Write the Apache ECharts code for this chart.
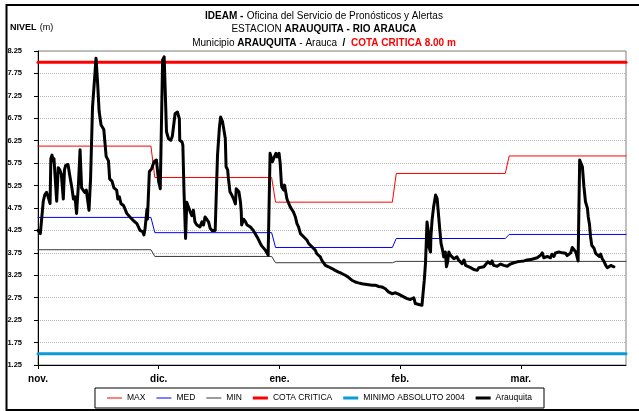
<!DOCTYPE html>
<html>
<head>
<meta charset="utf-8">
<script src="https://cdn.jsdelivr.net/npm/echarts@6/dist/echarts.min.js"></script>
<style>
html, body { margin: 0; padding: 0; background: #fff; }
#chart { width: 639px; height: 411px; }
</style>
</head>
<body>
<div id="chart"></div>
<script>
// Hydrological season Nov–Mar, x in days from 1 November
const monthLabels = ['nov.', 'dic.', 'ene.', 'feb.', 'mar.'];
const monthTickDays = [0, 31, 62, 93, 124];
const monthFirstDay = [0, 30, 61, 92, 121];
const monthLastDay = [29, 60, 91, 120, 151];

// Historical monthly statistics (m)
const maxLevels = [6.13, 5.43, 4.88, 5.52, 5.91];
const medLevels = [4.54, 4.20, 3.87, 4.07, 4.16];
const minLevels = [3.82, 3.67, 3.53, 3.56, 3.56];

const cotaCritica = 8.00;
const minimoAbsoluto2004 = 1.50;

const yTickLabels = [1.25, 1.75, 2.25, 2.75, 3.25, 3.75, 4.25, 4.75, 5.25, 5.75, 6.25, 6.75, 7.25, 7.75, 8.25];

// Observed river level at Arauquita
const arauquitaDays = [
  0, 0.6, 1.0, 1.35, 1.76, 2.18, 2.6, 3.1, 3.3, 3.6, 3.9, 4.1, 4.8, 5.2, 5.6, 6.0, 6.5, 6.8, 7.1, 7.7,
  8.2, 8.7, 9.1, 9.5, 9.9, 10.4, 10.8, 11.0, 11.2, 11.6, 12.0, 12.4, 13.1, 13.5, 14.0, 14.5, 14.9, 15.3, 15.7, 16.2,
  16.9, 17.5, 18.1, 18.4, 19.0, 19.5, 20.2, 20.5, 20.9, 21.3, 22.0, 22.8, 23.6, 24.6, 25.4, 26.2, 26.9, 27.2, 27.5, 28.0,
  28.1, 28.6, 29.2, 29.8, 30.4, 31.0, 31.4, 31.7, 32.0, 32.4, 32.9, 33.0, 33.5, 34.1, 34.5, 35.2, 35.8, 36.3, 36.4, 37.0,
  37.2, 37.5, 37.9, 38.2, 38.6, 39.1, 39.5, 39.9, 40.3, 40.8, 41.6, 42.1, 42.5, 42.9, 43.4, 43.8, 44.2, 44.7, 45.5, 45.9,
  46.1, 46.6, 46.9, 47.4, 48.1, 48.3, 48.7, 48.9, 49.3, 49.7, 50.2, 50.7, 50.9, 51.2, 51.6, 52.0, 52.2, 52.3, 52.8, 53.3,
  53.7, 54.5, 55.3, 56.3, 57.1, 57.5, 57.9, 58.4, 58.8, 59.1, 59.6, 59.9, 60.2, 60.5, 60.7, 61.1, 61.4, 61.6, 61.9, 62.2,
  62.5, 62.6, 63.1, 63.3, 63.7, 63.9, 64.2, 64.4, 64.8, 65.2, 65.6, 66.1, 66.5, 66.9, 67.4, 67.8, 68.2, 68.6, 69.1, 69.5,
  69.9, 70.4, 70.8, 71.2, 71.6, 72.1, 72.5, 72.9, 73.3, 73.8, 74.6, 75.5, 76.3, 77.2, 78.0, 78.9, 79.4, 79.8, 80.6, 81.5,
  82.3, 83.2, 84.0, 84.9, 85.8, 86.6, 87.5, 88.3, 89.2, 90.0, 90.9, 91.8, 92.6, 93.1, 93.9, 94.8, 95.6, 96.5, 96.9, 97.8,
  98.6, 99.1, 99.2, 99.5, 99.7, 99.9, 100.2, 100.4, 100.8, 100.9, 101.2, 101.6, 102.1, 102.5, 102.9, 103.2, 103.5, 103.9, 104.2, 104.6,
  104.9, 105.2, 105.5, 105.9, 106.3, 106.8, 107.2, 107.6, 108.0, 108.5, 108.9, 109.4, 109.8, 110.2, 111.1, 111.9, 112.3, 112.8, 113.2, 113.6,
  114.5, 114.9, 115.5, 116.2, 116.6, 117.0, 117.5, 117.9, 118.8, 119.6, 120.5, 121.3, 122.2, 123.1, 123.9, 124.8, 125.6, 126.5, 127.3, 128.2,
  129.1, 129.5, 129.9, 130.8, 131.6, 132.0, 132.5, 132.9, 133.8, 134.6, 135.5, 135.9, 136.8, 137.2, 137.6, 138.1, 138.7, 138.9, 139.1, 139.4,
  139.6, 139.8, 140.2, 140.6, 141.1, 141.3, 141.6, 141.9, 142.2, 142.4, 142.8, 143.2, 143.6, 144.1, 144.5, 144.9, 145.4, 145.8, 146.2, 146.6,
  147.1, 147.5, 147.9
];
const arauquitaLevels = [
  4.25, 4.18, 4.20, 4.90, 5.05, 5.10, 5.00, 4.85, 5.85, 5.93, 5.80, 5.85, 4.90, 5.65, 5.60, 5.50, 4.95, 5.60, 5.70, 5.72,
  5.45, 5.20, 4.95, 5.00, 4.63, 5.30, 6.05, 6.05, 5.20, 5.20, 5.10, 5.15, 4.70, 5.40, 7.00, 7.60, 8.09, 7.55, 6.90, 6.60,
  6.50, 5.90, 5.80, 5.40, 5.35, 5.20, 5.15, 4.95, 5.00, 4.85, 4.80, 4.63, 4.55, 4.46, 4.40, 4.25, 4.22, 4.15, 4.30, 4.73,
  4.50, 5.56, 5.63, 5.78, 5.82, 5.33, 5.18, 5.20, 8.05, 8.12, 8.08, 6.45, 6.30, 6.26, 6.35, 6.85, 6.89, 6.74, 6.26, 6.22,
  6.15, 5.11, 4.07, 4.88, 4.84, 4.66, 4.58, 4.70, 4.44, 4.37, 4.33, 4.44, 4.37, 4.55, 4.51, 4.44, 4.30, 4.25, 4.25, 4.28,
  5.93, 6.56, 6.78, 6.67, 6.30, 5.67, 5.60, 5.41, 5.11, 5.05, 4.96, 4.84, 5.18, 5.22, 5.11, 4.88, 4.66, 4.37, 4.50, 4.44,
  4.37, 4.33, 4.25, 4.10, 3.96, 3.90, 3.87, 3.81, 3.84, 3.70, 5.97, 6.00, 5.78, 5.85, 5.82, 5.97, 5.89, 5.93, 5.97, 5.74,
  5.30, 5.22, 5.15, 5.26, 5.07, 4.96, 4.89, 4.85, 4.77, 4.74, 4.66, 4.55, 4.40, 4.33, 4.18, 4.14, 4.11, 4.07, 4.03, 3.96,
  3.92, 3.88, 3.84, 3.81, 3.73, 3.77, 3.66, 3.58, 3.55, 3.47, 3.44, 3.40, 3.36, 3.32, 3.29, 3.25, 3.21, 3.20, 3.14, 3.10,
  3.08, 3.06, 3.05, 3.04, 3.03, 3.03, 3.00, 2.99, 2.95, 2.88, 2.84, 2.86, 2.83, 2.80, 2.77, 2.73, 2.71, 2.75, 2.62, 2.60,
  2.58, 2.62, 3.14, 3.51, 3.96, 4.44, 4.25, 3.88, 3.77, 4.11, 4.48, 4.78, 5.04, 4.96, 4.92, 4.25, 3.96, 3.81, 3.66, 3.77,
  3.44, 3.55, 3.77, 3.70, 3.73, 3.62, 3.59, 3.66, 3.59, 3.55, 3.51, 3.59, 3.47, 3.44, 3.42, 3.38, 3.35, 3.36, 3.42, 3.42,
  3.44, 3.47, 3.55, 3.51, 3.57, 3.47, 3.51, 3.45, 3.50, 3.47, 3.45, 3.50, 3.53, 3.55, 3.56, 3.57, 3.59, 3.60, 3.62, 3.64,
  3.70, 3.75, 3.64, 3.67, 3.64, 3.72, 3.67, 3.75, 3.77, 3.75, 3.74, 3.69, 3.75, 3.87, 3.88, 3.77, 3.57, 3.60, 5.82, 5.83,
  5.80, 5.67, 5.22, 4.89, 4.74, 4.55, 4.40, 4.11, 3.92, 3.96, 3.85, 3.74, 3.77, 3.67, 3.72, 3.62, 3.55, 3.47, 3.42, 3.44,
  3.47, 3.45, 3.44
];

const FONT = "'Liberation Sans',Arial,sans-serif";

const seriesNames = ['MAX', 'MED', 'MIN', 'COTA CRITICA', 'MINIMO ABSOLUTO 2004', 'Arauquita'];
const seriesColors = ['#ff0000', '#0000ff', '#3a3a3a', '#ff0000', '#0b9bd7', '#000000'];
const seriesWidths = [1, 1, 1, 3, 3, 3];

function monthlySteps(levels) {
  const out = [];
  levels.forEach(function (v, i) {
    out.push([monthFirstDay[i], v]);
    out.push([monthLastDay[i], v]);
  });
  return out;
}
function flatLine(v) {
  return [[monthFirstDay[0], v], [monthLastDay[monthLastDay.length - 1], v]];
}
const arauquitaData = arauquitaDays.map(function (d, i) { return [d, arauquitaLevels[i]]; });

const seriesData = [
  monthlySteps(maxLevels),
  monthlySteps(medLevels),
  monthlySteps(minLevels),
  flatLine(cotaCritica),
  flatLine(minimoAbsoluto2004),
  arauquitaData
];
const seriesZ = [2, 2, 2, 3, 3, 4];

// Legend swatch: a horizontal bar of the series' line thickness inside a 15x10 box
// (two hairline corner marks pin the path's bounding box to the full box size).
function legendSwatch(thickness) {
  const top = 5 - thickness / 2, bottom = 5 + thickness / 2;
  return 'path://M0,0L0.01,0L0,0.01Z' +
    'M0,' + top + 'L15,' + top + 'L15,' + bottom + 'L0,' + bottom + 'Z' +
    'M15,10L14.99,10L15,9.99Z';
}

const richTitle = {
  b: { fontFamily: FONT, fontSize: 10, fontWeight: 'bold', fill: '#000' },
  n: { fontFamily: FONT, fontSize: 10, fill: '#000' },
  r: { fontFamily: FONT, fontSize: 10, fontWeight: 'bold', fill: '#ff0000' }
};
function titleLine(text, y) {
  return { type: 'text', silent: true, x: 324, y: y,
    style: { text: text, rich: richTitle,
      align: 'center', verticalAlign: 'middle', textAlign: 'center', textVerticalAlign: 'middle' } };
}

const chart = echarts.init(document.getElementById('chart'), null, { renderer: 'canvas' });
chart.setOption({
  animation: false,
  backgroundColor: '#ffffff',
  grid: {
    left: 38, top: 51, width: 588, height: 314,
    show: true, borderColor: '#808080', borderWidth: 1, backgroundColor: 'transparent'
  },
  graphic: [
    { type: 'rect', silent: true, z: 100,
      shape: { x: 6.5, y: 5, width: 650, height: 405 },
      style: { fill: 'none', stroke: '#000', lineWidth: 2 } },
    titleLine('{b|IDEAM -} {n|Oficina del Servicio de Pronósticos y Alertas}', 16),
    titleLine('{n|ESTACION }{b|ARAUQUITA - RIO ARAUCA}', 29.5),
    titleLine('{n|Municipio }{b|ARAUQUITA}{n| - Arauca  }{b|/  }{r|COTA CRITICA 8.00 m}', 43),
    { type: 'text', silent: true, x: 10, y: 28,
      style: { text: '{b|NIVEL} {n|(m)}',
        align: 'left', verticalAlign: 'middle', textAlign: 'left', textVerticalAlign: 'middle',
        rich: { b: { fontFamily: FONT, fontSize: 9, fontWeight: 'bold', fill: '#000' },
                n: { fontFamily: FONT, fontSize: 9, fill: '#000' } } } }
  ],
  legend: {
    left: 'center', top: 388,
    padding: [5, 12, 5, 12],
    itemWidth: 15, itemHeight: 10, itemGap: 11,
    borderColor: '#000', borderWidth: 1,
    textStyle: { fontFamily: FONT, fontSize: 8.5, color: '#000' },
    itemStyle: { borderWidth: 0 },
    data: seriesNames.map(function (n, i) {
      return { name: n, icon: legendSwatch(seriesWidths[i]),
        itemStyle: { color: seriesColors[i], borderWidth: 0 } };
    })
  },
  xAxis: {
    type: 'value', min: 0, max: 151,
    axisLine: { onZero: false, lineStyle: { color: '#000', width: 1 } },
    axisTick: { customValues: monthTickDays, length: 4, lineStyle: { color: '#000' } },
    axisLabel: {
      customValues: monthTickDays, margin: 9,
      fontFamily: FONT, fontSize: 10, fontWeight: 'bold', color: '#000',
      formatter: function (v) { const i = monthTickDays.indexOf(v); return i >= 0 ? monthLabels[i] : ''; }
    },
    splitLine: { show: false }
  },
  yAxis: {
    type: 'value', min: 1.25, max: 8.25,
    axisLine: { show: true, onZero: false, lineStyle: { color: '#000', width: 1 } },
    axisTick: { show: true, customValues: yTickLabels, length: 4, lineStyle: { color: '#000' } },
    axisLabel: {
      customValues: yTickLabels, margin: 16,
      fontFamily: FONT, fontSize: 7.5, fontWeight: 'bold', color: '#000',
      formatter: function (v) { return v.toFixed(2); }
    },
    splitLine: { show: true, lineStyle: { type: 'dotted', color: '#b4b4b4', width: 1 } }
  },
  series: seriesNames.map(function (n, i) {
    return {
      name: n, type: 'line', data: seriesData[i], symbol: 'none', silent: true, z: seriesZ[i],
      lineStyle: { color: seriesColors[i], width: seriesWidths[i], join: 'round', cap: 'round' },
      itemStyle: { color: seriesColors[i] }
    };
  })
});
</script>
</body>
</html>
